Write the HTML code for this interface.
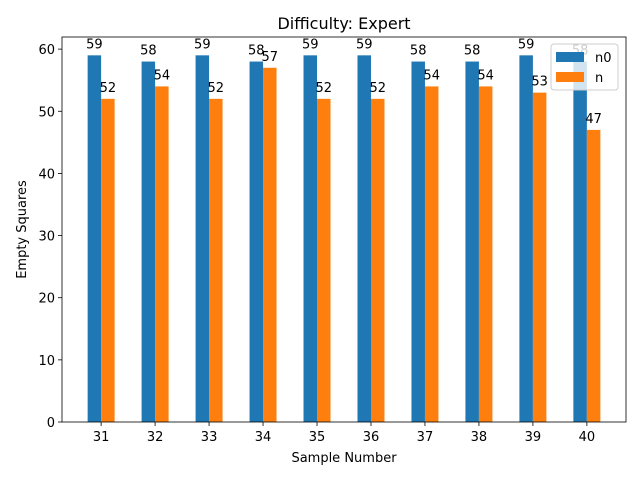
<!DOCTYPE html>
<html><head><meta charset="utf-8"><style>
body{margin:0;background:#fff}
text{font-family:"DejaVu Sans","Liberation Sans",sans-serif}
</style></head><body>
<svg id="chart" width="640" height="480" viewBox="0 0 640 480" xmlns="http://www.w3.org/2000/svg">
<rect width="640" height="480" fill="#fff"/>
<text x="344" y="29" font-size="16" text-anchor="middle" fill="#000">Difficulty: Expert</text>
<g id="bars"></g>
<g id="axes"></g>
</svg>
<script>
const categories = ["31","32","33","34","35","36","37","38","39","40"];
const n0Values = [59,58,59,58,59,59,58,58,59,58];
const nValues = [52,54,52,57,52,52,54,54,53,47];
const yTicks = [0,10,20,30,40,50,60];

const L=62,R=626,T=37,B=422;
const yMax=61.95;
const xMin=-0.725, xMax=categories.length-1+0.725;
const xs=v=>L+(v-xMin)/(xMax-xMin)*(R-L);
const ys=v=>B-v/yMax*(B-T);
const NS="http://www.w3.org/2000/svg";
const bars=document.getElementById('bars');
const axes=document.getElementById('axes');
function mk(tag,attrs,parent){const e=document.createElementNS(NS,tag);for(const k in attrs)e.setAttribute(k,attrs[k]);parent.appendChild(e);return e;}
const bw=0.25;
categories.forEach((c,i)=>{
  [[n0Values,-bw,'#1f77b4','n0'],[nValues,0,'#ff7f0e','n']].forEach(([arr,off,col,nm])=>{
    const x0=xs(i+off),x1=xs(i+off+bw),y=ys(arr[i]);
    const r=mk('rect',{x:x0,y:y,width:x1-x0,height:B-y,fill:col},bars);
    
    
    const t=mk('text',{x:(x0+x1)/2,y:y-7,'font-size':13,'text-anchor':'middle',fill:'#000'},bars);
    t.textContent=arr[i];
    
    
  });
  const tx=xs(i);
  mk('line',{x1:tx,x2:tx,y1:B,y2:B+4,stroke:'#000','stroke-width':0.8},axes);
  const tl=mk('text',{x:tx,y:B+19,'font-size':13,'text-anchor':'middle'},axes);
  tl.textContent=c;
  
  
});
yTicks.forEach(v=>{
  const y=ys(v);
  mk('line',{x1:L-4,x2:L,y1:y,y2:y,stroke:'#000','stroke-width':0.8},axes);
  const t=mk('text',{x:L-7,y:y+5,'font-size':13,'text-anchor':'end'},axes);
  t.textContent=v;
  
  
});
const fr=mk('rect',{x:L,y:T,width:R-L,height:B-T,fill:'none',stroke:'#000','stroke-width':0.8},axes);


const xl=mk('text',{x:(L+R)/2,y:462,'font-size':13,'text-anchor':'middle'},axes);
xl.textContent='Sample Number';


const yl=mk('text',{x:26,y:(T+B)/2,'font-size':13,'text-anchor':'middle',transform:'rotate(-90 26 '+((T+B)/2)+')'},axes);
yl.textContent='Empty Squares';


const lg=mk('g',{},axes);


mk('rect',{x:551,y:44,width:67,height:46,rx:3,fill:'#fff','fill-opacity':0.8,stroke:'#ccc'},lg);
[['n0','#1f77b4',52],['n','#ff7f0e',72]].forEach(([nm,col,y])=>{
  const e=mk('g',{},lg);
  
  
  mk('rect',{x:556,y:y,width:28,height:10,fill:col},e);
  const t=mk('text',{x:595,y:y+10,'font-size':13},e);
  t.textContent=nm;
});
</script>
</body></html>
